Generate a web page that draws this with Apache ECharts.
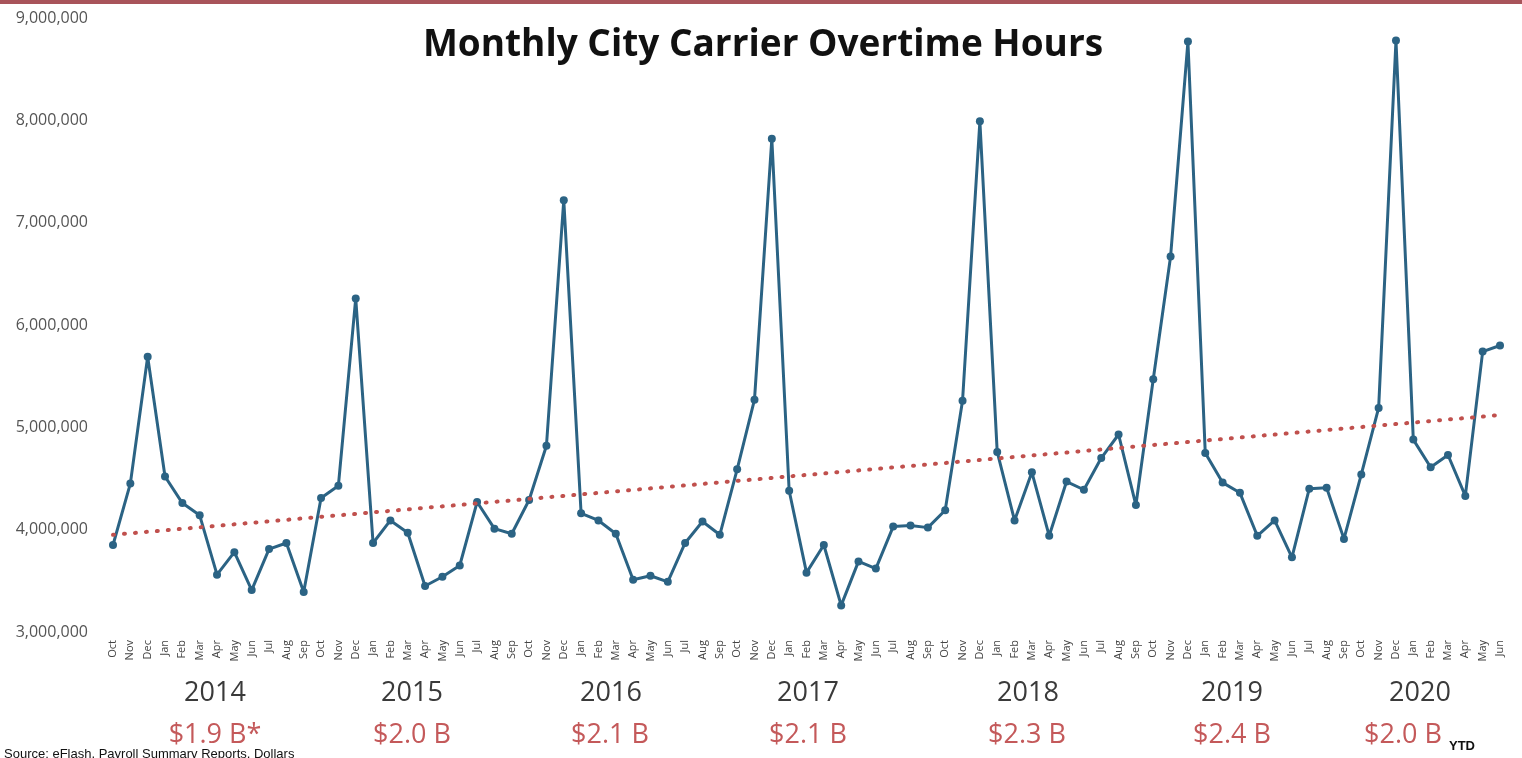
<!DOCTYPE html>
<html>
<head>
<meta charset="utf-8">
<script src="https://cdn.jsdelivr.net/npm/echarts@6/dist/echarts.min.js"></script>
<style>
html,body{margin:0;padding:0;background:#fff;}
#chart{width:1522px;height:758px;}
</style>
</head>
<body>
<div id="chart"></div>
<script>
// Month labels (Oct 2013 .. Jun 2020, fiscal years 2014-2020)
const months = [
  'Oct','Nov','Dec','Jan','Feb','Mar','Apr','May','Jun','Jul','Aug','Sep',
  'Oct','Nov','Dec','Jan','Feb','Mar','Apr','May','Jun','Jul','Aug','Sep',
  'Oct','Nov','Dec','Jan','Feb','Mar','Apr','May','Jun','Jul','Aug','Sep',
  'Oct','Nov','Dec','Jan','Feb','Mar','Apr','May','Jun','Jul','Aug','Sep',
  'Oct','Nov','Dec','Jan','Feb','Mar','Apr','May','Jun','Jul','Aug','Sep',
  'Oct','Nov','Dec','Jan','Feb','Mar','Apr','May','Jun','Jul','Aug','Sep',
  'Oct','Nov','Dec','Jan','Feb','Mar','Apr','May','Jun'
];
// Monthly overtime hours
const overtimeHours = [
  3850000,4450000,5690000,4520000,4260000,4140000,3560000,3780000,3410000,3810000,3870000,3390000,
  4310000,4430000,6260000,3870000,4090000,3970000,3450000,3540000,3650000,4270000,4010000,3960000,
  4290000,4820000,7220000,4160000,4090000,3960000,3510000,3550000,3490000,3870000,4080000,3950000,
  4590000,5270000,7820000,4380000,3580000,3850000,3260000,3690000,3620000,4030000,4040000,4020000,
  4190000,5260000,7990000,4760000,4090000,4560000,3940000,4470000,4390000,4700000,4930000,4240000,
  5470000,6670000,8770000,4750000,4460000,4360000,3940000,4090000,3730000,4400000,4410000,3910000,
  4540000,5190000,8780000,4880000,4610000,4730000,4330000,5740000,5800000
];
// Linear trend line end values
const trendStart = 3950000;
const trendEnd = 5120000;
// Fiscal year labels and annual overtime cost
const fiscalYears = ['2014','2015','2016','2017','2018','2019','2020'];
const yearCosts = ['$1.9 B*','$2.0 B','$2.1 B','$2.1 B','$2.3 B','$2.4 B','$2.0 B'];
// y-axis ticks
const yMin = 3000000, yMax = 9000000, yStep = 1000000;

const yearX = [215, 412, 611, 808, 1028, 1232, 1420];
const costX = [215, 412, 610, 808, 1027, 1232, 1403];

const chart = echarts.init(document.getElementById('chart'));

const graphics = [
  {type:'rect', shape:{x:0,y:0,width:1522,height:4}, style:{fill:'#a8545a'}},
  {type:'text', x:763, y:45, style:{text:'Monthly City Carrier Overtime Hours', font:'bold 37px "Open Sans", Lato, sans-serif', fill:'#111', textAlign:'center', textVerticalAlign:'middle'}},
  {type:'text', x:4, y:748, style:{text:'Source: eFlash, Payroll Summary Reports, Dollars', font:'13px "Liberation Sans", Arial, sans-serif', fill:'#111', textAlign:'left', textVerticalAlign:'top'}},
  {type:'text', x:1449, y:746, style:{text:'YTD', font:'bold 13px "Liberation Sans", Arial, sans-serif', fill:'#111', textAlign:'left', textVerticalAlign:'middle'}}
];
fiscalYears.forEach((y, i) => {
  graphics.push({type:'text', x:yearX[i], y:693, style:{text:y, font:'27px "Open Sans", Lato, sans-serif', fill:'#3a3a3a', textAlign:'center', textVerticalAlign:'middle'}});
  graphics.push({type:'text', x:costX[i], y:735, style:{text:yearCosts[i], font:'27px "Open Sans", Lato, sans-serif', fill:'#c4595a', textAlign:'center', textVerticalAlign:'middle'}});
});

chart.setOption({
  animation:false,
  grid:{left:113, right:22, top:18, bottom:126, containLabel:false},
  xAxis:{
    type:'category', data:months, boundaryGap:false,
    axisLine:{show:false}, axisTick:{show:false},
    axisLabel:{interval:0, rotate:90, fontSize:11, color:'#444', margin:8, fontFamily:'"Open Sans", sans-serif'}
  },
  yAxis:{
    type:'value', min:yMin, max:yMax, interval:yStep,
    splitLine:{show:false}, axisLine:{show:false}, axisTick:{show:false},
    axisLabel:{margin:25, fontSize:16, color:'#555', fontFamily:'"Open Sans", sans-serif',
      formatter:v => v.toLocaleString('en-US')}
  },
  series:[
    {
      type:'line', data:overtimeHours, symbol:'circle', symbolSize:8,
      lineStyle:{color:'#2b6384', width:3}, itemStyle:{color:'#2b6384'},
      markLine:{
        silent:true, symbol:['none','none'], label:{show:false},
        lineStyle:{color:'#c0504d', type:[1,10], width:4, cap:'round'},
        data:[[{coord:[0, trendStart]},{coord:[months.length-1, trendEnd]}]]
      },
      z:3
    }
  ],
  graphic:graphics
});
</script>
</body>
</html>
